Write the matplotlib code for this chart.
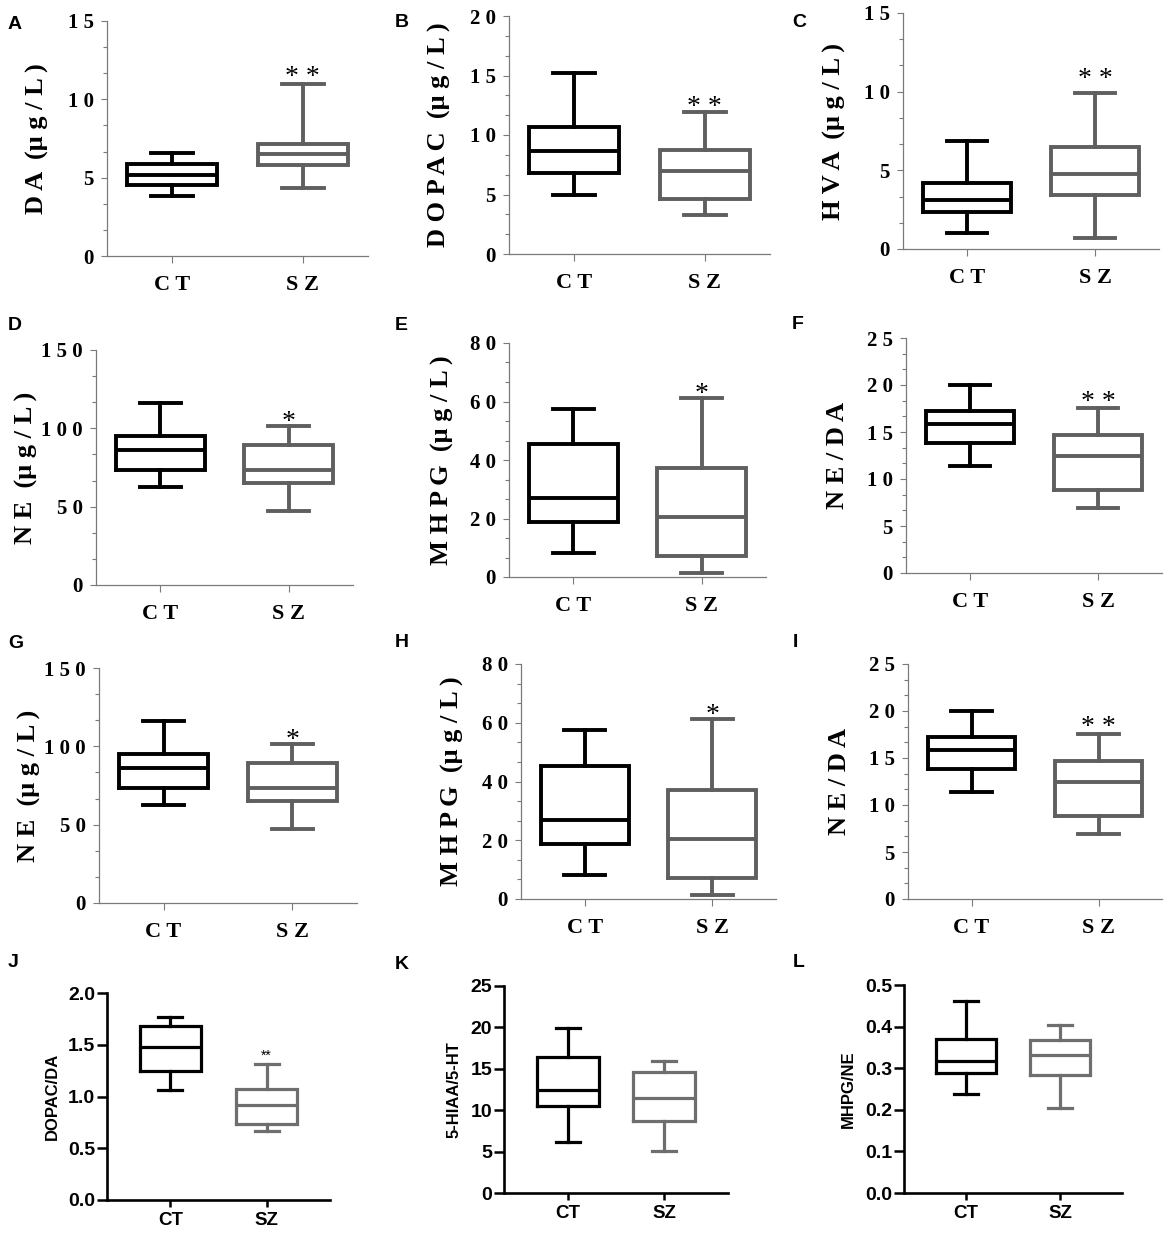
import numpy as np
import matplotlib
matplotlib.use('Agg')
import matplotlib.pyplot as plt

plt.rcParams['font.family'] = ['Liberation Serif', 'DejaVu Serif']

# ---- data: whisker low, Q1, median, Q3, whisker high ----
groups_top = ['C T', 'S Z']
groups_bottom = ['CT', 'SZ']

da_ct = [3.82, 4.52, 5.2, 5.86, 6.56]
da_sz = [4.35, 5.8, 6.48, 7.13, 11.0]
dopac_ct = [4.95, 6.8, 8.62, 10.66, 15.24]
dopac_sz = [3.3, 4.62, 7.0, 8.78, 11.94]
hva_ct = [1.0, 2.33, 3.14, 4.22, 6.84]
hva_sz = [0.68, 3.45, 4.77, 6.5, 9.89]
ne_ct = [62.6, 73.4, 86.2, 95.1, 116.0]
ne_sz = [47.4, 65.3, 73.4, 89.6, 101.7]
mhpg_ct = [8.3, 18.7, 26.9, 45.4, 57.4]
mhpg_sz = [1.4, 7.1, 20.4, 37.2, 61.3]
ne_da_ct = [11.38, 13.8, 15.89, 17.27, 19.96]
ne_da_sz = [6.95, 8.87, 12.41, 14.65, 17.59]
dopac_da_ct = [1.065, 1.25, 1.48, 1.68, 1.768]
dopac_da_sz = [0.668, 0.739, 0.916, 1.068, 1.316]
hiaa_ht_ct = [6.15, 10.45, 12.46, 16.4, 19.98]
hiaa_ht_sz = [5.1, 8.72, 11.5, 14.6, 16.0]
mhpg_ne_ct = [0.239, 0.289, 0.317, 0.371, 0.462]
mhpg_ne_sz = [0.205, 0.283, 0.331, 0.368, 0.404]

ylabels = ['D A  (μ g / L )', 'D O P A C  (μ g / L )', 'H V A  (μ g / L )',
           'N E  (μ g / L )', 'M H P G  (μ g / L )', 'N E / D A',
           'N E  (μ g / L )', 'M H P G  (μ g / L )', 'N E / D A',
           'DOPAC/DA', '5-HIAA/5-HT', 'MHPG/NE']
ymax = [15, 20, 15, 150, 80, 25, 150, 80, 25, 2.0, 25, 0.5]
ystep = [5, 5, 5, 50, 20, 5, 50, 20, 5, 0.5, 5, 0.1]
stars = ['* *', '* *', '* *', '*', '*', '* *', '*', '*', '* *', '**', '', '']
letters = list('ABCDEFGHIJKL')
series = [(da_ct, da_sz), (dopac_ct, dopac_sz), (hva_ct, hva_sz),
          (ne_ct, ne_sz), (mhpg_ct, mhpg_sz), (ne_da_ct, ne_da_sz),
          (ne_ct, ne_sz), (mhpg_ct, mhpg_sz), (ne_da_ct, ne_da_sz),
          (dopac_da_ct, dopac_da_sz), (hiaa_ht_ct, hiaa_ht_sz), (mhpg_ne_ct, mhpg_ne_sz)]

# ---- layout (pixels) ----
W, H = 1169, 1233
rects = [(107, 21, 368, 256), (509, 16, 770, 254), (903, 13, 1159, 249),
         (96, 350, 353, 585), (509, 343, 766, 577), (906, 338, 1162, 573),
         (99, 668, 357, 903), (521, 664, 776, 899), (908, 664, 1162, 899),
         (107, 993, 330, 1200), (504, 986, 728, 1193), (904, 985, 1122, 1193)]
label_x = [49, 451, 846, 38, 454, 849, 41, 464, 851, 60, 462, 856]
letter_xy = [(8, 16), (395, 14), (792, 14), (8, 317), (395, 317), (792, 316),
             (8, 635), (395, 634), (793, 634), (8, 954), (395, 956), (793, 954)]
star_off = [0, -2, 7, -3, -3, -1, -3, -3, 0, 4, 0, 0]

fig = plt.figure(figsize=(W / 100, H / 100), dpi=100)

for i in range(12):
    l, t, r, b = rects[i]
    ax = fig.add_axes([l / W, 1 - b / H, (r - l) / W, (b - t) / H])
    top = i < 9
    if top:
        colors = ['black', '#5f5f5f']
        lw, bw, cw = 2.8, 0.69, 0.32
        fam = ['Liberation Serif']
        ax.set_xlim(0.5, 2.5)
    else:
        colors = ['black', '#6e6e6e']
        lw, bw, cw = 2.3, 0.64, 0.25
        fam = ['Liberation Sans']
        ax.set_xlim(0.34, 2.66)

    for j, vals in enumerate(series[i]):
        st = dict(whislo=vals[0], q1=vals[1], med=vals[2], q3=vals[3],
                  whishi=vals[4], fliers=[])
        c = colors[j]
        ax.bxp([st], positions=[j + 1], widths=bw, capwidths=[cw],
               showfliers=False, manage_ticks=False,
               boxprops=dict(color=c, lw=lw, solid_joinstyle='miter'),
               whiskerprops=dict(color=c, lw=lw),
               capprops=dict(color=c, lw=lw),
               medianprops=dict(color=c, lw=lw))

    ax.set_ylim(0, ymax[i])
    yt = np.arange(0, ymax[i] + ystep[i] / 2, ystep[i])
    for s in ['top', 'right']:
        ax.spines[s].set_visible(False)

    if top:
        ylabs = [' '.join(f'{v:g}') for v in yt]
        ax.set_yticks(yt, labels=ylabs, fontsize=15, fontweight='bold', family=fam)
        ax.set_yticks(np.arange(0, ymax[i] + 1e-9, ystep[i] / 3), minor=True)
        ax.set_xticks([1, 2], labels=groups_top, fontsize=16, fontweight='bold', family=fam)
        for s in ['left', 'bottom']:
            ax.spines[s].set_color('#7a7a7a')
            ax.spines[s].set_linewidth(0.9)
        ax.tick_params(axis='y', which='major', length=4.5, width=0.8, color='#7a7a7a', pad=5)
        ax.tick_params(axis='y', which='minor', length=3, width=0.8, color='#7a7a7a')
        ax.tick_params(axis='x', length=5, width=0.8, color='#7a7a7a', pad=9)
        ax.set_ylabel(ylabels[i], fontsize=19, fontweight='bold', family=fam)
        star_fs = 20
    else:
        if ystep[i] < 1:
            ylabs = [f'{v:.1f}' for v in yt]
        else:
            ylabs = [f'{v:g}' for v in yt]
        ax.set_yticks(yt, labels=ylabs, fontsize=14, fontweight='bold', family=fam)
        ax.set_xticks([1, 2], labels=groups_bottom, fontsize=13.5, fontweight='bold', family=fam)
        for s in ['left', 'bottom']:
            ax.spines[s].set_color('black')
            ax.spines[s].set_linewidth(1.9)
        ax.tick_params(axis='y', length=7, width=1.8, color='black', pad=1.5)
        ax.tick_params(axis='x', length=5, width=1.8, color='black', pad=3.5)
        ax.set_ylabel(ylabels[i], fontsize=12, fontweight='bold', family=fam)
        star_fs = 10

    ax.yaxis.set_label_coords((label_x[i] - l) / (r - l), 0.5)

    if stars[i]:
        ax.annotate(stars[i], xy=(2, series[i][1][4]),
                    xytext=(0, star_off[i] * 0.72), textcoords='offset points',
                    ha='center', va='baseline', fontsize=star_fs, family=fam)

    lx, ly = letter_xy[i]
    fig.text(lx / W, 1 - ly / H, letters[i], ha='left', va='top',
             fontsize=14, fontweight='bold', family=['Liberation Sans'])

fig.savefig('out.png', dpi=100)
